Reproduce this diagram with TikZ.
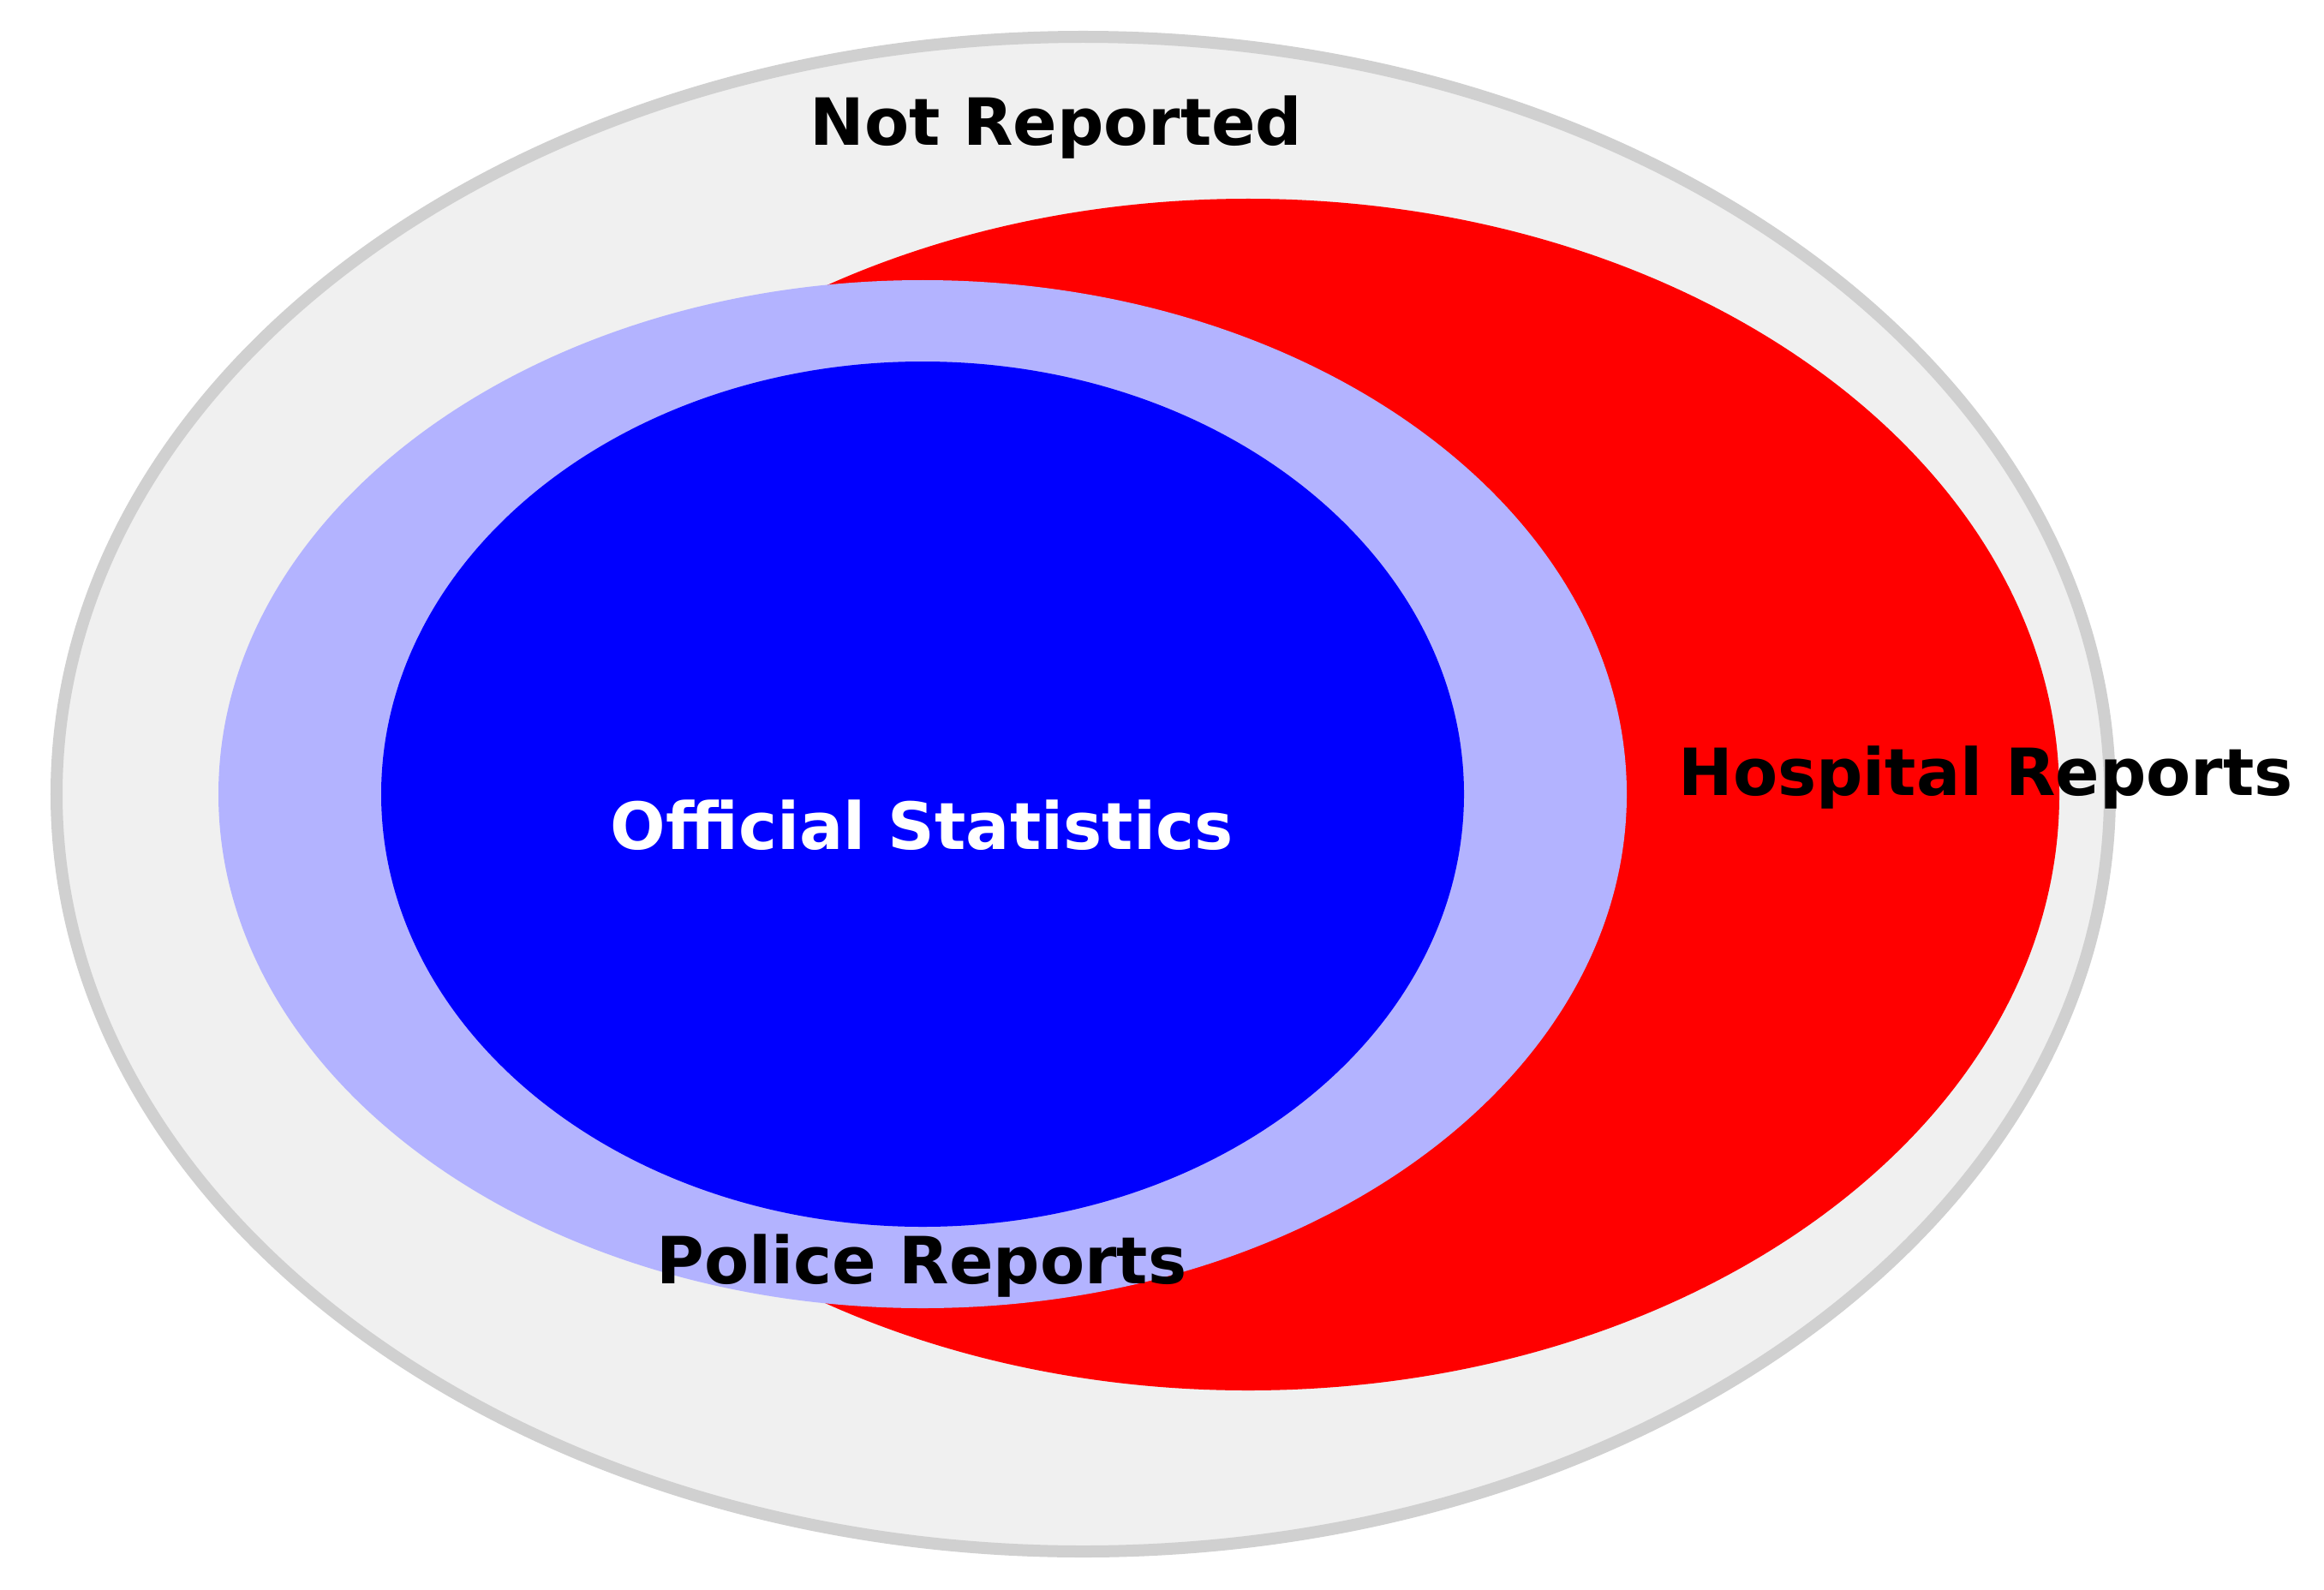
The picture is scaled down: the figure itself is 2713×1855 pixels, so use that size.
\documentclass[tikz,border=0pt]{standalone}
\usepackage{fontspec}
\setmainfont{DejaVu Sans}
\definecolor{outerfill}{HTML}{F0F0F0}
\definecolor{outerline}{HTML}{D0D0D0}
\definecolor{lav}{HTML}{B3B3FF}
\tikzset{
  lbl/.style={font=\fontsize{21.6pt}{26pt}\selectfont\bfseries, anchor=base, inner sep=0pt},
}
\begin{document}
\begin{tikzpicture}[x=0.01cm,y=-0.01cm]
\useasboundingbox (0,0) rectangle (2713,1855);
\fill[white] (0,0) rectangle (2713,1855);
\draw[fill=outerfill, draw=outerline, line width=0.14cm] (1264.5,927) ellipse [x radius=1198.5, y radius=884];
\fill[red] (1457,927.5) ellipse [x radius=947, y radius=695.5];
\fill[lav] (1077,927) ellipse [x radius=822, y radius=600];
\fill[blue] (1077,927) ellipse [x radius=632, y radius=505];
\node[lbl] (notrep) at (1233,170) {Not Reported};
\node[lbl] (hosp) at (2318,928) {Hospital Reports};
\node[lbl, text=white] (offic) at (1076,991) {Official Statistics};
\node[lbl] (police) at (1076,1498) {Police Reports};
\end{tikzpicture}
\end{document}
